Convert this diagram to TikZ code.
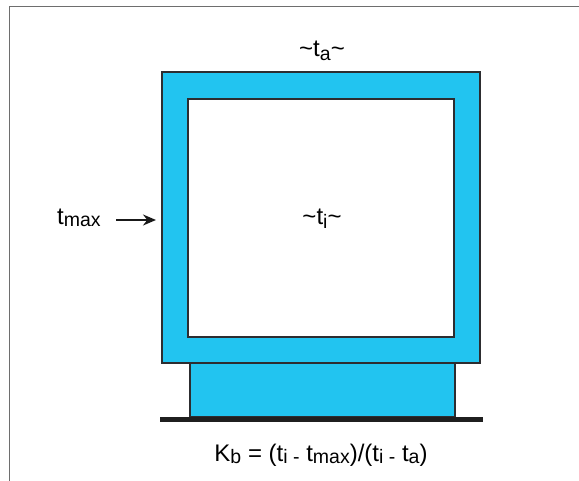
\documentclass[tikz,border=0pt]{standalone}
\usepackage{fontspec}
\setmainfont{Liberation Sans}
\usetikzlibrary{arrows.meta}
\definecolor{wallblue}{RGB}{34,196,240}
\definecolor{edge}{RGB}{45,45,48}
\definecolor{framegray}{RGB}{110,110,110}
\newcommand\sbx[2][2pt]{\raisebox{-#1}{\fontsize{19.5}{19.5}\selectfont #2}}
\begin{document}
\begin{tikzpicture}[x=1pt,y=1pt,
  wall/.style={fill=wallblue,draw=edge,line width=2pt},
  inside/.style={fill=white,draw=edge,line width=2pt},
  lbl/.style={font=\fontsize{24}{24}\selectfont,inner sep=0pt},
  arr/.style={-{Stealth[length=13pt,width=11pt]},line width=1.6pt,draw=black!90}]
\useasboundingbox (0,0) rectangle (579,-481);
% frame
\draw[framegray,line width=1pt] (9,-481) -- (9,-7) -- (579,-7);
% walls
\draw[wall] (162,-72) rectangle (480,-363);
\draw[inside] (188,-99) rectangle (454,-337);
\draw[wall] (190,-363) rectangle (455,-417);
\draw[line width=5pt,black!88] (160,-419.5) -- (483,-419.5);
% labels
\node[lbl] (ta) at (322,-51) {\textasciitilde t\sbx[4pt]{a}\textasciitilde};
\node[lbl] (ti) at (322,-219) {\textasciitilde t\sbx[4pt]{i}\textasciitilde};
\node[lbl,anchor=base west] (tmax) at (57,-225) {t\sbx{max}};
\coordinate (wallpt) at (156,-220);
\draw[arr] (116,-220) -- (wallpt);
\node[lbl] (kb) at (321,-455) {K\sbx{b} = (t\sbx{i -} t\sbx{max})/(t\sbx{i -} t\sbx{a})};
\end{tikzpicture}
\end{document}
